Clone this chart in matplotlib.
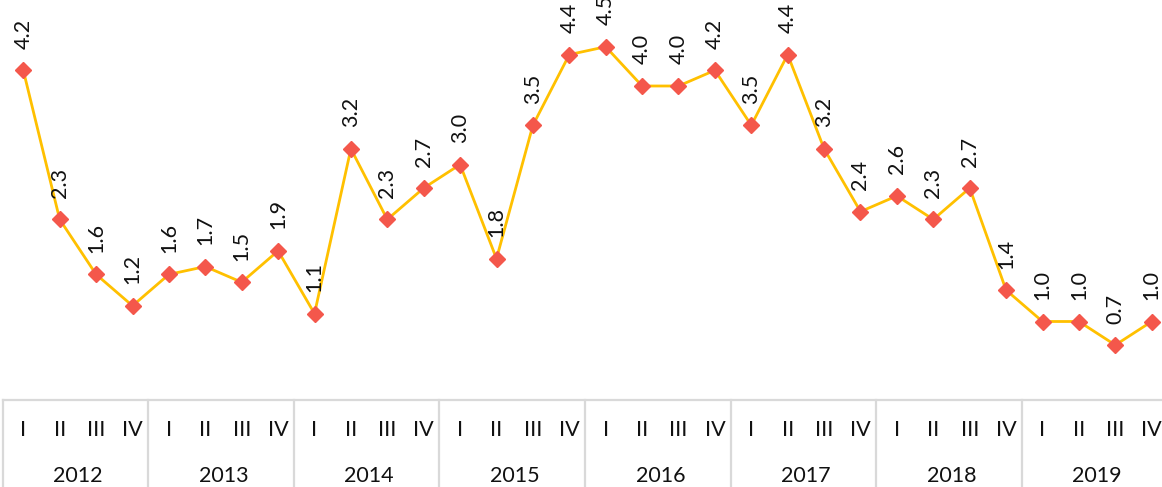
import matplotlib
matplotlib.use('Agg')
import matplotlib.pyplot as plt
from matplotlib.lines import Line2D

years = ['2012', '2013', '2014', '2015', '2016', '2017', '2018', '2019']
quarters = ['I', 'II', 'III', 'IV']
values = [4.2, 2.3, 1.6, 1.2,
          1.6, 1.7, 1.5, 1.9,
          1.1, 3.2, 2.3, 2.7,
          3.0, 1.8, 3.5, 4.4,
          4.5, 4.0, 4.0, 4.2,
          3.5, 4.4, 3.2, 2.4,
          2.6, 2.3, 2.7, 1.4,
          1.0, 1.0, 0.7, 1.0]

plt.rcParams['font.family'] = ['Lato', 'DejaVu Sans']

W, H = 1162, 487
dpi = 100
fig = plt.figure(figsize=(W / dpi, H / dpi), dpi=dpi)

# plot area in pixels (it runs a bit past the right edge, like the original)
cat_w = 36.4
x0_px = 23.3 - cat_w / 2
ax_bottom_px = 400
px_per_unit = 78.5
n = len(values)
ax = fig.add_axes([x0_px / W, (H - ax_bottom_px) / H, cat_w * n / W, ax_bottom_px / H])
ax.set_xlim(-0.5, n - 0.5)
ax.set_ylim(0, ax_bottom_px / px_per_unit)
ax.axis('off')

xs = list(range(n))
ax.plot(xs, values, color='#FFC000', lw=2.0, zorder=2, clip_on=False)
ax.plot(xs, values, ls='none', marker='D', ms=8.5, color='#F4574B', zorder=3, clip_on=False)

for x, v in zip(xs, values):
    ax.annotate('%.1f' % v, (x, v), xytext=(0, 15.5), textcoords='offset points',
                rotation=90, ha='center', va='bottom', fontsize=15.5, color='#111111',
                annotation_clip=False)

# category axis box
grid = '#D9D9D9'
tr = ax.get_xaxis_transform()
below = (H - ax_bottom_px) / ax_bottom_px  # axes-fraction height of the label area
ax.add_line(Line2D([-0.566, n + 1], [0, 0], transform=tr, color=grid, lw=1.6, clip_on=False))
for k in range(len(years) + 1):
    xb = -0.566 + 4 * k
    ax.add_line(Line2D([xb, xb], [0, -below], transform=tr, color=grid, lw=1.6, clip_on=False))

q_y = -(429.5 - ax_bottom_px) / ax_bottom_px
y_y = -(476 - ax_bottom_px) / ax_bottom_px
for i in range(n):
    ax.text(i, q_y, quarters[i % 4], transform=tr, ha='center', va='center',
            fontsize=15.5, color='#111111')
for k, yr in enumerate(years):
    ax.text(4 * k + 1.5, y_y, yr, transform=tr, ha='center', va='center',
            fontsize=15.5, color='#111111')

fig.savefig('out.png', dpi=dpi)
